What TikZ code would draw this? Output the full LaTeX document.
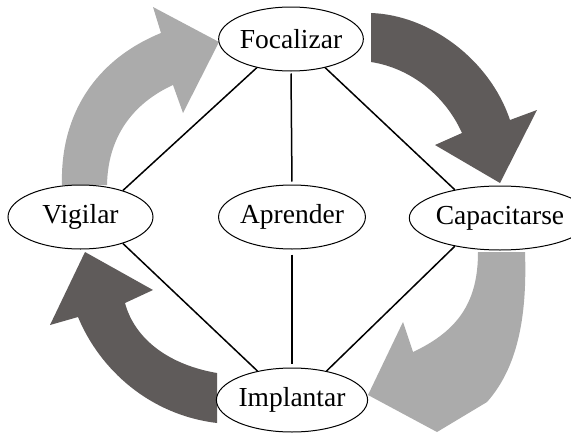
\documentclass[tikz,border=0pt]{standalone}
\usepackage{fontspec}
\setmainfont{Liberation Serif}
\usetikzlibrary{shapes.geometric}
\definecolor{lightar}{HTML}{ABABAB}
\definecolor{darkar}{HTML}{5F5B5A}
\begin{document}
\begin{tikzpicture}[x=1pt,y=-1pt,
  stage/.style={ellipse,draw=black,line width=1pt,fill=white,inner sep=0pt,
    minimum width=144pt,minimum height=64pt,font=\fontsize{27.5}{30}\selectfont},
  link/.style={line width=1.5pt}]
\useasboundingbox (0,0) rectangle (571,434);
% block arrows
\fill[lightar] (62,185) .. controls (60,115) and (95,60) .. (161,33)
  -- (153,7) -- (219,42) -- (183,113) -- (173,85)
  .. controls (140,100) and (108,130) .. (107,185) -- cycle;
\fill[darkar] (371,13) .. controls (430,15) and (490,60) .. (510,120)
  -- (537,110) -- (500,183) -- (435,145) -- (462,133)
  .. controls (445,95) and (410,68) .. (371,62) -- cycle;
\fill[lightar] (525,252) .. controls (527,310) and (520,365) .. (487,402)
  -- (437,432) -- (368,395) -- (403,322) -- (413,352)
  .. controls (460,330) and (478,300) .. (478,252) -- cycle;
\fill[darkar] (217,423) .. controls (150,415) and (100,370) .. (78,317)
  -- (50,325) -- (85,252) -- (153,290) -- (125,303)
  .. controls (135,340) and (170,365) .. (217,373) -- cycle;
% nodes
\node[stage] (foc) at (291,39) {Focalizar};
\node[stage,minimum width=145pt] (vig) at (80.5,217) {Vigilar};
\node[stage,minimum width=142pt] (apr) at (292,217) {Aprender};
\node[stage,minimum width=140pt] (cap) at (500,218) {Capacitarse};
\node[stage,minimum width=142pt] (imp) at (292,400) {Implantar};
% links
\draw[link] (vig.32) -- (foc.220);
\draw[link] (foc.320) -- (cap.148);
\draw[link] (vig.-32) -- (imp.140);
\draw[link] (cap.212) -- (imp.40);
\draw[link,shorten <=2pt,shorten >=3pt] (foc.south) -- (apr.north);
\draw[link,shorten <=5pt,shorten >=4pt] (apr.south) -- (imp.north);
\end{tikzpicture}
\end{document}
